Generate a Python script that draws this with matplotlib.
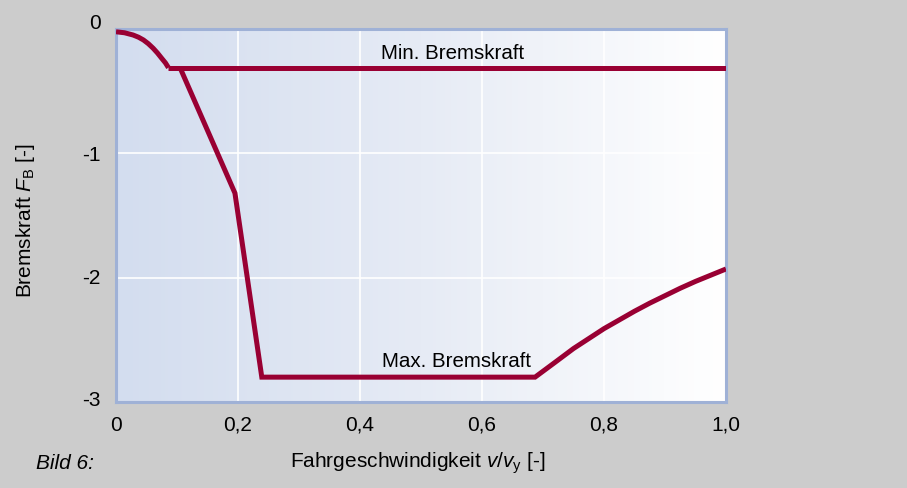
import numpy as np
import matplotlib
matplotlib.use("Agg")
import matplotlib.pyplot as plt
from matplotlib.colors import LinearSegmentedColormap
from matplotlib.transforms import ScaledTranslation

# values
knee_x = [0.0, 0.014, 0.028, 0.037, 0.045, 0.053, 0.061, 0.068, 0.075, 0.081, 0.086]
knee_y = [-0.022, -0.030, -0.048, -0.066, -0.088, -0.118, -0.155, -0.193, -0.236, -0.272, -0.311]
min_x = [0.086, 1.0]
min_y = [-0.311, -0.311]
max_x = [0.105, 0.195, 0.239, 0.687, 0.72, 0.75, 0.775, 0.80, 0.825, 0.85,
         0.875, 0.90, 0.925, 0.95, 0.975, 1.0]
max_y = [-0.311, -1.32, -2.80, -2.80, -2.68, -2.57, -2.49, -2.41, -2.34, -2.27,
         -2.205, -2.145, -2.085, -2.03, -1.98, -1.93]
xticks = [0, 0.2, 0.4, 0.6, 0.8, 1.0]
xticklabels = ["0", "0,2", "0,4", "0,6", "0,8", "1,0"]
yticks = [0, -1, -2, -3]
yticklabels = ["0", "-1", "-2", "-3"]

RED = "#990033"
plt.rcParams['font.family'] = ["Liberation Sans", "DejaVu Sans"]
plt.rcParams['mathtext.fontset'] = 'custom'
plt.rcParams['mathtext.rm'] = 'Liberation Sans'
plt.rcParams['mathtext.it'] = 'Liberation Sans:italic'

fig = plt.figure(figsize=(9.07, 4.88), dpi=100)
fig.patch.set_facecolor("#cccccc")
ax = fig.add_axes([0.1279, 0.1762, 0.6725, 0.7643])

cmap = LinearSegmentedColormap.from_list("bg", ["#d3ddef", "#e6ebf5", "#ffffff"])
ax.imshow(np.linspace(0, 1, 256)[None, :], cmap=cmap, aspect="auto",
          extent=(0, 1, -3, 0), zorder=0, interpolation="bilinear")

for xv in xticks[1:-1]:
    ax.axvline(xv, color="white", lw=1.2, zorder=1)
for yv in yticks[1:-1]:
    ax.axhline(yv, color="white", lw=1.2, zorder=1)

kw = dict(color=RED, lw=3.6, solid_joinstyle="miter", solid_capstyle="butt", zorder=3)
ax.plot(knee_x, knee_y, **kw)
ax.plot(min_x, min_y, **kw)
ax.plot(max_x, max_y, **kw)

ax.text(0.551, -0.241, "Min. Bremskraft", ha="center", va="baseline", fontsize=14.8)
ax.text(0.559, -2.715, "Max. Bremskraft", ha="center", va="baseline", fontsize=14.8)

ax.set_xlim(0, 1)
ax.set_ylim(-3, 0)
ax.set_xticks(xticks)
ax.set_xticklabels(xticklabels, fontsize=15)
ax.set_yticks(yticks)
ax.set_yticklabels(yticklabels, fontsize=15)
ax.tick_params(length=0)
ax.tick_params(axis="x", pad=10)
ax.tick_params(axis="y", pad=11)
ylabs = ax.get_yticklabels()
for lab, up in zip(ylabs, [8, 0, 1, 4]):
    lab.set_transform(lab.get_transform() + ScaledTranslation(0, up / 100, fig.dpi_scale_trans))
for s in ax.spines.values():
    s.set_color("#9fb1d6")
    s.set_linewidth(2.2)

fig.text(0.028, 0.547, r"Bremskraft $\mathit{F}_\mathrm{B}$ [-]", rotation=90,
         ha="center", va="center", fontsize=15)
fig.text(0.461, 0.051, r"Fahrgeschwindigkeit $\mathit{v/v}_\mathrm{y}$ [-]",
         ha="center", va="center", fontsize=15)
fig.text(0.040, 0.051, "Bild 6:", style="italic", ha="left", va="center", fontsize=15)

fig.savefig("out.png", dpi=100, facecolor=fig.get_facecolor())
